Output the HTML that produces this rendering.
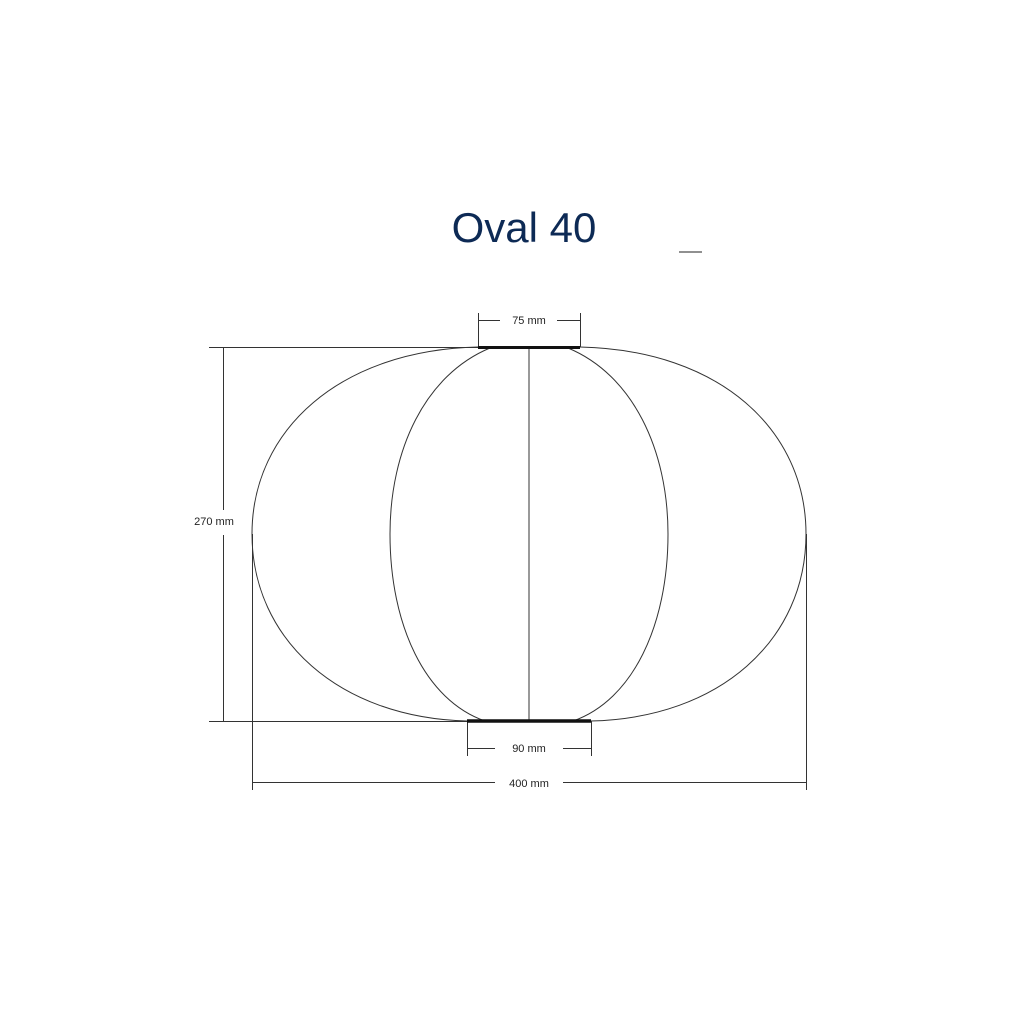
<!DOCTYPE html>
<html><head><style>
body{margin:0;background:#fff;}
svg{display:block;}
</style></head><body>
<svg width="1024" height="1024" xmlns="http://www.w3.org/2000/svg">
<rect width="1024" height="1024" fill="#fff"/>
<text x="524" y="242" text-anchor="middle" font-family="'Liberation Sans', sans-serif" font-size="42" fill="#0d2a55">Oval 40</text>
<line x1="679" y1="252" x2="702" y2="252" stroke="#222" stroke-width="1"/>
<g fill="none" stroke="#333" stroke-width="1">
<path d="M478,347 C340,350 252,430 252,534 C252,640 340,718 467,721"/>
<path d="M580,347 C720,350 806,430 806,534 C806,640 720,718 591,721"/>
<path d="M490,348 C425,375 390,450 390,534 C390,625 425,700 485,721"/>
<path d="M568,348 C633,375 668,450 668,534 C668,625 633,700 573,721"/>
<line x1="529" y1="347" x2="529" y2="721"/>
<line x1="209" y1="347.5" x2="478" y2="347.5"/>
<line x1="209" y1="721.5" x2="467" y2="721.5"/>
<line x1="223.5" y1="347" x2="223.5" y2="510"/>
<line x1="223.5" y1="535" x2="223.5" y2="721"/>
<line x1="252.5" y1="534" x2="252.5" y2="790"/>
<line x1="806.5" y1="534" x2="806.5" y2="790"/>
<line x1="252" y1="782.5" x2="495" y2="782.5"/>
<line x1="563" y1="782.5" x2="806" y2="782.5"/>
<line x1="478.5" y1="313" x2="478.5" y2="347"/>
<line x1="580.5" y1="313" x2="580.5" y2="347"/>
<line x1="478" y1="320.5" x2="500" y2="320.5"/>
<line x1="557" y1="320.5" x2="580" y2="320.5"/>
<line x1="467.5" y1="721" x2="467.5" y2="756"/>
<line x1="591.5" y1="721" x2="591.5" y2="756"/>
<line x1="467" y1="748.5" x2="495" y2="748.5"/>
<line x1="563" y1="748.5" x2="591" y2="748.5"/>
</g>
<line x1="478" y1="347.5" x2="580" y2="347.5" stroke="#111" stroke-width="3"/>
<line x1="467" y1="721" x2="591" y2="721" stroke="#111" stroke-width="3.5"/>
<g font-family="'Liberation Sans', sans-serif" font-size="11" fill="#222" text-anchor="middle">
<text x="529" y="324">75 mm</text>
<text x="529" y="752">90 mm</text>
<text x="529" y="787">400 mm</text>
<text x="214" y="525">270 mm</text>
</g>
</svg>
</body></html>
